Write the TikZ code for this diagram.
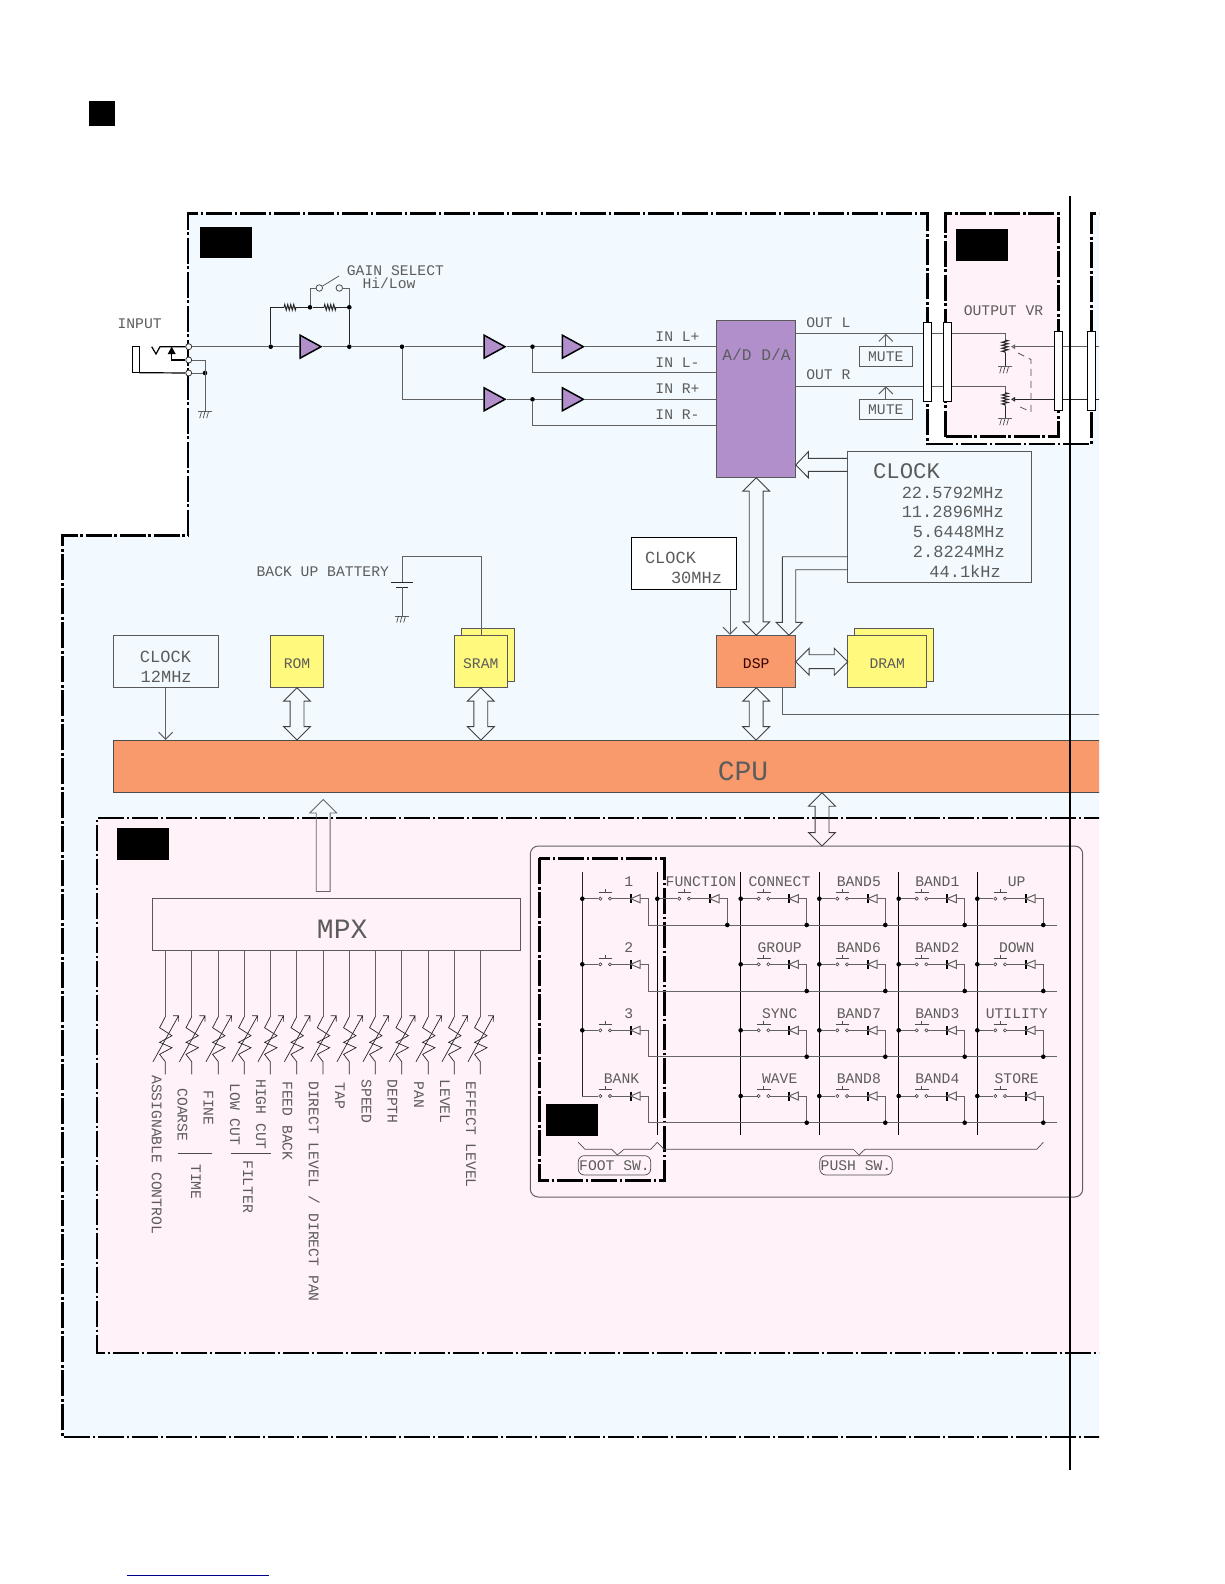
\documentclass[tikz,border=0pt]{standalone}
\usepackage{fontspec}
\setmonofont{Liberation Mono}
\usetikzlibrary{shapes.geometric, shapes.arrows, arrows.meta, decorations.pathmorphing}

\definecolor{mainbg}{HTML}{F2FAFF}
\definecolor{pinkbg}{HTML}{FFF2F8}
\definecolor{purplechip}{HTML}{B08FCB}
\definecolor{orangechip}{HTML}{F89A6C}
\definecolor{yellowchip}{HTML}{FFF97E}
\definecolor{wiregray}{gray}{0.38}
\definecolor{textgray}{gray}{0.36}

\newcommand{\szfont}[1]{\fontsize{#1}{#1}\selectfont\ttfamily}

% ground symbol
\newcommand{\gnd}[2]{
    \draw[wire] (#1,#2-0.0) ++(-6.7,0) -- ++(13.4,0);
    \draw[thin wire] (#1-3.5,#2) -- ++(-1.8,6.5) (#1,#2) -- ++(-1.8,6.5) (#1+3.5,#2) -- ++(-1.8,6.5);
}

% one key of the switch matrix: name, x, row y, bus y, shift
\newcommand{\keycell}[5]{
    \coordinate (#1in) at (#2,#3);
    \node[contact] (#1a) at (#2+18+#5,#3) {};
    \node[contact] (#1b) at (#2+27.7+#5,#3) {};
    \coordinate (#1bar) at (#2+48.4+#5,#3);
    \coordinate (#1tri) at (#2+57.7+#5,#3);
    \coordinate (#1out) at (#2+66+#5,#4);
    \draw[wire] (#1in) -- (#1a) (#1b) -- (#1bar);
    \draw[wire] (#1tri) -| (#1out);
    \draw[line width=1.6pt] (#1bar) +(0,-4.5) -- +(0,4.5);
    \draw[wire, fill=pinkbg] (#1bar) -- +(9.3,-4) -- +(9.3,4) -- cycle;
    \draw[thin wire] (#1a) +(-1.7,-6.3) -- +(11.9,-6.3) (#1a) +(5,-6.3) -- +(5,-9.8);
}

\tikzset{
    wire/.style={draw=wiregray, line width=1pt},
    thin wire/.style={draw=black!70, line width=0.7pt},
    darkwire/.style={draw=black!85, line width=1pt},
    frame/.style={draw=black, line width=2.5pt, dash pattern=on 26pt off 2.7pt on 2.6pt off 2.7pt},
    dot/.style={circle, fill=black, inner sep=0pt, minimum size=4.6pt},
    term/.style={circle, draw=black!80, fill=white, line width=0.8pt, inner sep=0pt, minimum size=6pt},
    contact/.style={circle, draw=black!75, fill=pinkbg, line width=0.6pt, inner sep=0pt, minimum size=3.2pt},
    amp/.style={isosceles triangle, isosceles triangle stretches, draw=black, fill=purplechip, line width=1.5pt,
        inner sep=0pt, minimum width=23pt, minimum height=21pt, anchor=lower side},
    chip/.style={rectangle, draw=black!65, line width=0.9pt, inner sep=0pt, text=textgray},
    plug/.style={rectangle, draw=black, fill=white, line width=1pt, inner sep=0pt, minimum width=8pt, minimum height=79pt},
    redact/.style={rectangle, fill=black, inner sep=0pt, minimum width=52pt, minimum height=31.5pt},
    txt/.style={font=\szfont{14.7}, text=textgray, inner sep=0pt, text height=9.6pt, text depth=0pt},
    mtxt/.style={font=\szfont{17}, text=textgray, inner sep=0pt, text height=11pt, text depth=0pt},
    vtxt/.style={txt, rotate=-90, anchor=west},
    pill/.style={txt, draw=black!70, line width=0.7pt, rounded corners=6pt, text height=9.6pt, inner sep=0pt,
        minimum width=72.4pt, minimum height=19.3pt, fill=pinkbg},
    dblarrow/.style={double arrow, draw=black!75, line width=0.9pt, double arrow head extend=6.5pt,
        double arrow tip angle=90, minimum width=26pt, inner xsep=0pt, inner ysep=6.5pt},
    uparrow/.style={single arrow, draw=black!60, line width=0.9pt, single arrow head extend=6.5pt,
        single arrow tip angle=90, minimum width=26pt, inner xsep=0pt, inner ysep=6.5pt},
    open head/.style={-{Straight Barb[length=7pt,width=14pt]}}
}

\begin{document}
\begin{tikzpicture}[x=1pt, y=-1pt]
    \useasboundingbox (0,0) rectangle (1224,1584);
    \node[rectangle, fill=black, inner sep=0pt, minimum width=26pt, minimum height=25pt] (square) at (102,113.5) {};
    \coordinate (notea) at (127,1575);
    \coordinate (noteb) at (269,1575);
    \draw[draw=blue!55!black, line width=1pt] (notea) -- (noteb);

    \begin{scope}
    \clip (0,0) rectangle (1099,1584);
    % areas
    \fill[mainbg] (188,213.3) -- (927.7,213.3) -- (927.7,444) -- (1091.3,444) -- (1091.3,213.3) -- (1110,213.3)
        -- (1110,1437) -- (62.6,1437) -- (62.6,535.5) -- (188,535.5) -- cycle;
    \fill[pinkbg] (945.7,213.3) rectangle (1058.3,436.7);
    \fill[pinkbg] (97,818) rectangle (1110,1353);
    \draw[frame] (188,535.5) -- (188,213.3) -- (927.7,213.3) -- (927.7,444) -- (1091.3,444) -- (1091.3,213.3) -- (1110,213.3);
    \draw[frame] (1110,1437) -- (62.6,1437) -- (62.6,535.5) -- (188,535.5);
    \draw[frame] (945.7,436.7) -- (945.7,213.3) -- (1058.3,213.3) -- (1058.3,436.7) -- cycle;
    \draw[frame] (1110,818) -- (97,818) -- (97,1353) -- (1110,1353);

    \node[redact] (tagmain) at (226,242.5) {};
    \node[redact] (tagvr) at (982,245) {};
    \node[redact] (tagpanel) at (142.8,844) {};

    % input jack
    \node[term] (tipin) at (188.7,346.7) {};
    \node[term] (ringin) at (188.7,360) {};
    \node[term] (sleevein) at (188.7,373) {};
    \node[dot] (jackgnd) at (205,373) {};
    \coordinate (gnda) at (205,411.7);
    \draw[line width=1.5pt] (132.7,346.7) rectangle (139.3,372.7);
    \draw[line width=1.2pt] (139.3,372.7) -- (sleevein);
    \draw[line width=1.2pt] (151.7,346.7) -- (156,354) -- (160,346.7) -- (tipin);
    \draw[line width=1.2pt] (ringin) -- (171.7,360) -- (171.7,352);
    \fill (171.7,346.7) -- (175.7,354) -- (167.7,354) -- cycle;
    \draw[wire] (ringin) -| (gnda);
    \draw[wire] (sleevein) -- (jackgnd);
    \gnd{205}{411.7}
    \node[txt] (lblinput) at (139.6,323.3) {INPUT};

    % gain stage
    \node[dot] (gainl) at (270.7,346.7) {};
    \node[dot] (gainr) at (349.3,346.7) {};
    \node[dot] (split) at (402,346.7) {};
    \node[amp] (amp1) at (299.3,346.7) {};
    \coordinate (fbl) at (270.7,307.3);
    \node[dot] (fbmid) at (310,307.3) {};
    \node[dot] (fbr) at (349.3,307.3) {};
    \node[circle, draw=black!70, fill=mainbg, line width=0.8pt, inner sep=0pt, minimum size=6.5pt] (swa) at (319.3,288) {};
    \node[circle, draw=black!70, fill=mainbg, line width=0.8pt, inner sep=0pt, minimum size=6.5pt] (swb) at (339.3,288) {};
    \coordinate (swarm) at (339,276);
    \draw[wire] (tipin) -- (gainl) -- (amp1.lower side);
    \draw[wire] (amp1.apex) -- (gainr) -- (split);
    \draw[darkwire] (gainl) -- (fbl) -- (284,307.3);
    \draw[darkwire, decorate, decoration={zigzag, segment length=3pt, amplitude=2.8pt}] (284,307.3) -- (296,307.3);
    \draw[darkwire] (296,307.3) -- (fbmid) -- (324,307.3);
    \draw[darkwire, decorate, decoration={zigzag, segment length=3pt, amplitude=2.8pt}] (324,307.3) -- (336,307.3);
    \draw[darkwire] (336,307.3) -- (fbr) -- (gainr);
    \draw[wire] (fbmid) |- (swa);
    \draw[wire] (fbr) |- (swb);
    \draw[thin wire] (swa) -- (swarm);
    \node[txt, anchor=west] (lblgain) at (346.7,270.7) {GAIN SELECT};
    \node[txt, anchor=west] (lblhilow) at (362.3,284) {Hi/Low};

    % amplifiers and converter
    \node[chip, fill=purplechip, minimum width=79pt, minimum height=157.4pt] (adda) at (756.2,399) {};
    \node[txt] (lbladda) at (756.5,356) {\szfont{16.2}A/D D/A};
    \node[amp] (amp2) at (483.3,346.7) {};
    \node[amp] (amp3) at (483.3,399.3) {};
    \node[amp] (amp4) at (561.6,346.7) {};
    \node[amp] (amp5) at (561.6,399.3) {};
    \node[dot] (dotl) at (532.5,346.7) {};
    \node[dot] (dotr) at (532.5,399.3) {};
    \coordinate (inlp) at (adda.west |- dotl);
    \coordinate (inlm) at (716.7,372.7);
    \coordinate (inrp) at (adda.west |- dotr);
    \coordinate (inrm) at (716.7,425.3);
    \draw[wire] (split) -- (amp2.lower side);
    \draw[wire] (split) |- (amp3.lower side);
    \draw[wire] (amp2.apex) -- (dotl) -- (amp4.lower side);
    \draw[wire] (amp3.apex) -- (dotr) -- (amp5.lower side);
    \draw[wire] (amp4.apex) -- (inlp);
    \draw[wire] (amp5.apex) -- (inrp);
    \draw[wire] (dotl) |- (inlm);
    \draw[wire] (dotr) |- (inrm);
    \node[txt] (lblinlp) at (677.5,336.5) {IN L+};
    \node[txt] (lblinlm) at (677.5,362.5) {IN L-};
    \node[txt] (lblinrp) at (677.5,388.8) {IN R+};
    \node[txt] (lblinrm) at (677.5,415) {IN R-};

    % output section
    \coordinate (outl) at (796,333.7);
    \coordinate (outr) at (796,386.3);
    \coordinate (potl) at (1005,333.7);
    \coordinate (potr) at (1005,386.3);
    \node[chip, txt, draw=black!65, line width=0.9pt, minimum width=53pt, minimum height=20pt] (mutel) at (885.8,356.7) {MUTE};
    \node[chip, txt, draw=black!65, line width=0.9pt, minimum width=53pt, minimum height=20pt] (muter) at (885.8,409.3) {MUTE};
    \draw[wire] (outl) -- (potl) -- (1005,340);
    \draw[wire] (outr) -- (potr) -- (1005,392.7);
    \draw[darkwire, decorate, decoration={zigzag, segment length=3pt, amplitude=3pt}] (1005,340) -- (1005,353);
    \draw[darkwire, decorate, decoration={zigzag, segment length=3pt, amplitude=3pt}] (1005,392.7) -- (1005,406);
    \draw[darkwire] (1005,353) -- (1005,366.7);
    \draw[darkwire] (1005,406) -- (1005,418.7);
    \gnd{1005}{366.7}
    \gnd{1005}{418.7}
    \draw[wire, -{Triangle[open, length=4pt, width=4.5pt]}] (1110,346.7) -- (1011,346.7);
    \draw[darkwire, -{Triangle[open, length=4pt, width=4.5pt]}] (1110,399.3) -- (1011,399.3);
    \draw[thin wire, dash pattern=on 7pt off 5pt] (1018,353) -- (1031,359.5) -- (1031,412) -- (1018,406);
    \draw[wire, open head] (mutel) -- (mutel |- outl);
    \draw[wire, open head] (muter) -- (muter |- outr);
    \node[plug] (plug1) at (927.3,361.8) {};
    \node[plug] (plug2) at (947.5,361.8) {};
    \node[plug] (plug3) at (1058.3,370.8) {};
    \node[plug] (plug4) at (1091.3,370.8) {};
    \node[txt] (lbloutl) at (828.3,323) {OUT L};
    \node[txt] (lbloutr) at (828.3,375) {OUT R};
    \node[txt] (lblvr) at (1003.5,310.7) {OUTPUT VR};

    % clocks
    \node[chip, fill=mainbg, minimum width=184pt, minimum height=131pt] (clockmain) at (939.7,517.2) {};
    \node[font=\szfont{22.3}, text=textgray, inner sep=0pt, text height=14.5pt, text depth=0pt] (lblclock) at (906.5,471.7) {CLOCK};
    \node[mtxt, anchor=east] (lblfa) at (1004,492.7) {22.5792MHz};
    \node[mtxt, anchor=east] (lblfb) at (1004,512.3) {11.2896MHz};
    \node[mtxt, anchor=east] (lblfc) at (1005,532) {5.6448MHz};
    \node[mtxt, anchor=east] (lblfd) at (1005,551.7) {2.8224MHz};
    \node[mtxt, anchor=east] (lblfe) at (1001,572) {44.1kHz};
    \node[chip, draw=black, fill=white, minimum width=105.4pt, minimum height=52.3pt] (clockdsp) at (684,563.2) {};
    \node[mtxt] (lblcl30) at (670.5,558.3) {CLOCK};
    \node[mtxt] (lblmhz30) at (696.5,578.3) {30MHz};
    \node[chip, minimum width=105.3pt, minimum height=52.4pt] (clockcpu) at (165.6,661.5) {};
    \node[mtxt] (lblcl12) at (165.5,656.5) {CLOCK};
    \node[mtxt] (lblmhz12) at (166.2,676.5) {12MHz};

    % memories and processors
    \node[chip, fill=orangechip, txt, text=black!65!red!60!black, text height=14.6pt, minimum width=79pt, minimum height=52.4pt, draw=black!65, line width=0.9pt] (dsp) at (756.2,661.5) {DSP};
    \node[chip, fill=yellowchip, minimum width=78.6pt, minimum height=52.6pt] (dramback) at (894,655) {};
    \node[chip, fill=yellowchip, txt, text height=14.6pt, draw=black!65, line width=0.9pt, minimum width=79pt, minimum height=52.4pt] (dram) at (887.2,661.5) {DRAM};
    \node[chip, fill=yellowchip, txt, text height=14.6pt, draw=black!65, line width=0.9pt, minimum width=52.6pt, minimum height=52.4pt] (rom) at (297,661.5) {ROM};
    \node[chip, fill=yellowchip, minimum width=52.6pt, minimum height=52.6pt] (sramback) at (487.8,655) {};
    \node[chip, fill=yellowchip, txt, text height=14.6pt, draw=black!65, line width=0.9pt, minimum width=52.6pt, minimum height=52.4pt] (sram) at (480.8,661.5) {SRAM};
    \node[chip, fill=orangechip, font=\szfont{28}, text=textgray, text height=28pt, text depth=0pt, draw=black!70, line width=0.9pt, minimum width=1010pt, minimum height=52.7pt] (cpu) at (618,766.4) {\hspace{250pt}CPU};
    \node[chip, fill=pinkbg, font=\szfont{28}, text height=28pt, text depth=0pt, minimum width=367.5pt, minimum height=52.4pt] (mpx) at (336.2,924.2) {\hspace{12pt}MPX};

    % battery
    \coordinate (battop) at (402,582);
    \coordinate (batbot) at (402,587);
    \coordinate (batlow) at (402,616);
    \coordinate (sramup) at (481,556.7);
    \draw[wire] (sram.north -| sramup) -- (sramup) -- (402,556.7) -- (battop);
    \draw[darkwire] (391,582) -- (413,582);
    \draw[darkwire] (396,587) -- (408,587);
    \draw[wire] (batbot) -- (batlow);
    \gnd{402}{616}
    \node[txt] (lblbat) at (322.8,571.7) {BACK UP BATTERY};

    % buses
    \node[dblarrow, rotate=90, minimum height=157.6pt] (bidsp) at (756.2,556.5) {};
    \node[dblarrow, minimum height=52pt] (bidram) at (821.7,661.7) {};
    \node[dblarrow, rotate=90, minimum height=52.4pt] (bicpu) at (756.2,713.9) {};
    \node[dblarrow, rotate=90, minimum height=52.4pt] (birom) at (297,713.9) {};
    \node[dblarrow, rotate=90, minimum height=52.4pt] (bisram) at (480.8,713.9) {};
    \node[dblarrow, rotate=90, minimum height=53.3pt] (bipanel) at (822,819.4) {};
    \node[uparrow, rotate=90, minimum height=92pt] (upmpx) at (323.2,849) {};
    \coordinate (clka) at (847.7,458.3);
    \coordinate (clkb) at (847.7,471.3);
    \draw[draw=black!75, line width=0.9pt] (clka) -- (808.3,458.3) -- (808.3,451.7) -- (795.7,465) -- (808.3,477.7)
        -- (808.3,471.3) -- (clkb);
    \coordinate (clkc) at (847.7,556.7);
    \coordinate (clkd) at (847.7,569.7);
    \draw[draw=black!75, line width=0.9pt] (clkc) -- (782.3,556.7) -- (782.3,622.3) -- (776,622.3) -- (789,635.3)
        -- (802.3,622.3) -- (795.7,622.3) -- (795.7,569.7) -- (clkd);
    \draw[wire, open head] (clockdsp.south -| 730,0) -- (dsp.north -| 730,0);
    \draw[wire, open head] (clockcpu) ++(0,26.2) -- (165.6,740);
    \coordinate (dspout) at (782.3,714);
    \draw[wire] (dsp.south -| dspout) -- (dspout) -- (1110,714);

    % pots on the multiplexer
    \foreach \i/\px in {1/165.3,2/191.7,3/218.3,4/244.3,5/270.3,6/296.7,7/323,8/349.3,9/375.3,10/401.7,11/428.3,12/454.3,13/480.3}{
        \coordinate (mpx\i) at (\px,950.4);
        \coordinate (pot\i) at (\px,1016.7);
        \draw[wire] (mpx\i) -- (pot\i);
        \draw[thin wire, draw=black!85] (pot\i) -- (\px-5.7,1027.7) -- (\px+6.7,1035.7) -- (\px-5.7,1042.3) -- (\px+6.7,1047.7)
            -- (\px-5.7,1054.3) -- (\px,1061.7) -- (\px,1074.3);
        \draw[thin wire, draw=black!85] (\px-12.3,1061.7) -- (\px+13.3,1015.7) (\px+7.7,1015.7) -- (\px+13.3,1015.7) -- (\px+13.3,1021.7);
    }
    \node[vtxt] (lblassign) at (156.7,1075) {ASSIGNABLE CONTROL};
    \node[vtxt] (lblcoarse) at (182.3,1088.3) {COARSE};
    \node[vtxt] (lblfine) at (208.3,1090) {FINE};
    \node[vtxt] (lbllow) at (235,1083.3) {LOW CUT};
    \node[vtxt] (lblhigh) at (261,1079) {HIGH CUT};
    \node[vtxt] (lblfeed) at (287.3,1081) {FEED BACK};
    \node[vtxt] (lbldirect) at (313.7,1081) {DIRECT LEVEL / DIRECT PAN};
    \node[vtxt] (lbltap) at (340,1082.7) {TAP};
    \node[vtxt] (lblspeed) at (366.3,1079.3) {SPEED};
    \node[vtxt] (lbldepth) at (392.3,1079.3) {DEPTH};
    \node[vtxt] (lblpan) at (419,1081.7) {PAN};
    \node[vtxt] (lbllevel) at (445,1079.3) {LEVEL};
    \node[vtxt] (lbleffect) at (471,1081.7) {EFFECT LEVEL};
    \node[vtxt] (lbltime) at (196,1164) {TIME};
    \node[vtxt] (lblfilter) at (248,1160) {FILTER};
    \coordinate (tima) at (178.3,1153.3);
    \coordinate (timb) at (211.7,1153.3);
    \coordinate (fila) at (231,1153.3);
    \coordinate (filb) at (271,1153.3);
    \draw[thin wire] (tima) -- (timb);
    \draw[thin wire] (fila) -- (filb);

    % switch panel
    \draw[wire, rounded corners=8pt] (530.3,846) rectangle (1082.7,1197);
    \draw[frame] (539.3,858.3) rectangle (664.3,1180.7);
    \node[redact] (tagfoot) at (572,1120) {};
    \draw[darkwire] (582.3,872.3) -- (582.3,1096);
    \foreach \cx in {657.3,740.7,819.3,898.7,977.3}
        \draw[draw=black, line width=1pt] (\cx,872.3) -- (\cx,1135.3);
    \foreach \r/\by in {1/925,2/991,3/1056.7,4/1122.7}
        \draw[wire, draw=black!60] (648.3,\by) -- (1056.7,\by);
    \foreach \r/\ry/\by in {1/898.7/925,2/964.3/991,3/1030.3/1056.7,4/1096/1122.7}{
        \keycell{ka\r}{582.3}{\ry}{\by}{0}
        \foreach \cc/\cx in {c/740.7,d/819.3,e/898.7,f/977.3}{
            \keycell{k\cc\r}{\cx}{\ry}{\by}{0}
            \node[dot] (k\cc\r dotin) at (k\cc\r in) {};
            \node[dot] (k\cc\r dotout) at (k\cc\r out) {};
        }
    }
    \keycell{kb1}{657.3}{898.7}{925}{4}
    \node[dot] (kb1dotin) at (kb1in) {};
    \node[dot] (kb1dotout) at (kb1out) {};
    \node[dot] (ka1dot) at (ka1in) {};
    \node[dot] (ka2dot) at (ka2in) {};
    \node[dot] (ka3dot) at (ka3in) {};
    \foreach \lab/\lx/\ly [count=\n] in {1/628.7/881.7,2/628.7/947.3,3/628.7/1013.3,BANK/621.5/1079,
        FUNCTION/701/881.7,CONNECT/779.5/881.7,GROUP/779.7/947.3,SYNC/779.7/1013.3,WAVE/779.7/1079,
        BAND5/858.8/881.7,BAND6/858.8/947.3,BAND7/858.8/1013.3,BAND8/858.8/1079,
        BAND1/937.3/881.7,BAND2/937.3/947.3,BAND3/937.3/1013.3,BAND4/937.3/1079,
        UP/1016.7/881.7,DOWN/1016.7/947.3,UTILITY/1016.7/1013.3,STORE/1016.7/1079}
        \node[txt] (keylab\n) at (\lx,\ly) {\lab};
    \draw[thin wire] (578.3,1142.3) -- (585,1149.3) -- (611.7,1149.3) -- (617.3,1155) -- (624,1149.3) -- (650.7,1149.3) -- (657.3,1142.3);
    \draw[thin wire] (657.3,1142.3) -- (664,1149.3) -- (853.3,1149.3) -- (859,1155) -- (865,1149.3) -- (1036.7,1149.3) -- (1043.3,1142.3);
    \node[pill] (foot) at (614.5,1165.3) {FOOT SW.};
    \node[pill] (push) at (856,1165.3) {PUSH SW.};
    \end{scope}

    \coordinate (cuta) at (1070,196);
    \coordinate (cutb) at (1070,1470);
    \draw[line width=2pt] (cuta) -- (cutb);
\end{tikzpicture}
\end{document}
